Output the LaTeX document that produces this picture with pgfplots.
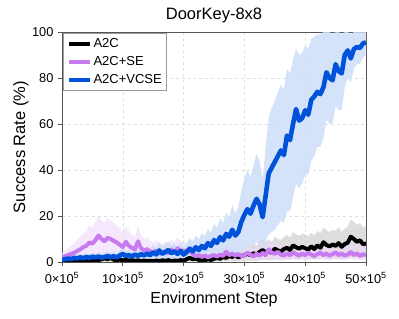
\documentclass[border=0pt]{standalone}
\usepackage{fontspec}
\setmainfont{Liberation Sans}
\usepackage{pgfplots}
\usepackage{pgfplotstable}
\pgfplotsset{compat=1.18}
\usepgfplotslibrary{fillbetween}
\definecolor{vcse}{RGB}{0,82,218}
\definecolor{vcseband}{RGB}{205,222,248}
\definecolor{se}{RGB}{200,122,240}
\definecolor{seband}{RGB}{238,215,250}
\definecolor{axgray}{RGB}{85,85,85}

\pgfplotstableread{
x m lo hi
0 1.0 0.3 2.0
0.5 1.2 0.4 2.4
1 1.5 0.5 2.8
1.5 1.3 0.4 2.6
2 1.8 0.6 3.2
2.5 1.6 0.5 3.0
3 2.0 0.7 3.5
3.5 1.7 0.5 3.2
4 2.2 0.8 3.8
4.5 1.8 0.6 3.4
5 2.3 0.8 4.0
5.5 2.0 0.6 3.6
6 2.4 0.9 4.2
6.5 1.9 0.6 3.6
7 2.2 0.7 4.0
7.5 2.6 0.9 4.6
8 2.1 0.7 3.9
8.5 2.5 0.8 4.5
9 2.0 0.6 3.8
9.5 2.8 1.0 5.0
10 3.5 1.2 6.0
10.5 2.6 0.8 4.8
11 3.0 1.0 5.4
11.5 2.4 0.8 4.6
12 3.2 1.0 5.8
12.5 2.7 0.9 5.0
13 3.4 1.1 6.2
13.5 2.9 0.9 5.4
14 3.6 1.2 6.5
14.5 3.0 1.0 5.6
15 4.2 1.4 7.4
15.5 3.3 1.0 6.0
16 5.0 1.6 8.6
16.5 3.6 1.1 6.6
17 4.4 1.4 7.8
17.5 5.2 1.6 9.0
18 3.8 1.2 7.0
18.5 4.6 1.4 8.2
19 3.5 1.0 6.6
19.5 4.8 1.5 8.6
20 3.2 1.0 6.2
20.5 4.5 1.4 8.4
21 5.8 1.8 10.4
21.5 4.6 1.4 8.8
22 6.4 2.0 11.5
22.5 5.2 1.6 9.8
23 7.0 2.2 12.6
23.5 6.0 1.8 11.2
24 8.2 2.6 14.5
24.5 7.0 2.2 12.8
25 9.5 3.0 16.5
25.5 8.3 2.6 15.0
26 10.8 3.4 19.0
26.5 9.4 3.0 17.0
27 12.2 3.8 21.5
27.5 11.0 3.4 19.5
28 14.0 4.2 25.0
28.5 11.5 3.6 21.0
29 13.0 4.0 24.0
29.5 17.5 5.0 31.0
30 20.5 6.0 36.0
30.5 23.0 7.0 40.0
31 21.0 6.5 37.0
31.5 24.5 7.5 42.0
32 27.5 8.5 47.0
32.5 25.0 8.0 44.0
33 19.5 6.0 36.0
33.5 29.0 9.0 50.0
34 38.5 12.0 63.0
34.5 41.0 13.0 67.0
35 43.5 14.0 70.0
35.5 46.0 16.0 74.0
36 48.5 18.0 77.0
36.5 46.5 17.0 75.0
37 55.0 22.0 84.0
37.5 53.0 22.0 82.0
38 60.0 28.0 88.0
38.5 66.5 34.0 93.0
39 61.5 32.0 90.0
39.5 62.5 34.0 91.0
40 66.0 38.0 94.0
40.5 64.0 38.0 93.0
41 70.5 44.0 97.0
41.5 72.0 46.0 98.0
42 74.0 50.0 99.0
42.5 73.0 50.0 99.0
43 76.0 54.0 100
43.5 82.5 62.0 100
44 80.0 60.0 100
44.5 79.0 60.0 99.0
45 86.0 68.0 100
45.5 83.0 66.0 100
46 82.0 66.0 99.0
46.5 90.0 76.0 100
47 92.0 80.0 100
47.5 88.5 78.0 99.0
48 92.5 84.0 100
48.5 93.5 86.0 100
49 93.0 86.0 100
49.5 95.0 89.0 100
50 95.5 90.0 100
}\vcsetab

\pgfplotstableread{
x m lo hi
0 2.0 0.5 4.0
0.5 2.5 0.8 5.0
1 3.0 1.0 6.0
1.5 3.5 1.0 7.0
2 4.0 1.2 8.0
2.5 4.8 1.4 9.5
3 5.5 1.6 11.0
3.5 6.5 2.0 12.5
4 7.0 2.2 13.5
4.5 8.5 2.6 16.0
5 8.0 2.4 15.0
5.5 9.5 3.0 17.5
6 11.5 3.5 20.0
6.5 10.0 3.0 18.0
7 9.0 2.8 17.0
7.5 10.5 3.2 19.0
8 10.0 3.0 18.0
8.5 9.2 2.8 17.0
9 8.5 2.6 16.0
9.5 7.5 2.3 14.5
10 6.5 2.0 13.0
10.5 8.8 2.6 15.5
11 7.0 2.2 13.5
11.5 6.2 2.0 12.0
12 5.5 1.8 11.0
12.5 9.0 2.6 15.5
13 6.0 1.9 11.5
13.5 5.0 1.6 10.0
14 5.6 1.8 10.8
14.5 4.6 1.5 9.2
15 4.2 1.3 8.5
15.5 5.0 1.5 9.5
16 4.0 1.2 8.2
16.5 3.6 1.1 7.6
17 4.5 1.4 8.8
17.5 3.8 1.2 7.8
18 5.5 1.7 10.0
18.5 4.2 1.3 8.4
19 6.0 1.8 10.8
19.5 4.8 1.5 9.0
20 5.0 1.5 9.4
20.5 3.8 1.2 7.6
21 5.2 1.6 9.6
21.5 3.5 1.0 7.2
22 2.5 0.8 5.6
22.5 3.0 0.9 6.4
23 2.2 0.6 5.2
23.5 2.8 0.8 6.0
24 2.0 0.6 5.0
24.5 2.6 0.8 5.8
25 3.0 0.9 6.4
25.5 2.4 0.7 5.6
26 3.2 1.0 6.8
26.5 2.6 0.8 5.8
27 4.5 1.4 8.6
27.5 3.0 0.9 6.4
28 3.6 1.1 7.2
28.5 2.8 0.8 6.0
29 3.4 1.0 7.0
29.5 2.6 0.8 5.8
30 3.0 0.9 6.4
30.5 4.0 1.2 7.8
31 3.2 1.0 6.8
31.5 2.4 0.7 5.6
32 3.6 1.1 7.2
32.5 2.8 0.8 6.2
33 4.0 1.2 7.8
33.5 3.0 0.9 6.6
34 5.5 1.6 9.6
34.5 4.0 1.2 8.0
35 3.6 1.1 7.4
35.5 4.4 1.3 8.4
36 3.2 1.0 7.0
36.5 2.8 0.8 6.4
37 3.6 1.1 7.4
37.5 3.0 0.9 6.6
38 4.2 1.2 8.2
38.5 3.4 1.0 7.2
39 2.8 0.8 6.4
39.5 3.6 1.1 7.4
40 3.0 0.9 6.6
40.5 4.0 1.2 8.0
41 3.2 1.0 7.0
41.5 2.6 0.8 6.0
42 3.4 1.0 7.2
42.5 4.0 1.2 8.0
43 3.0 0.9 6.6
43.5 3.6 1.1 7.4
44 2.8 0.8 6.2
44.5 3.4 1.0 7.2
45 4.2 1.2 8.4
45.5 3.0 0.9 6.6
46 3.6 1.1 7.4
46.5 2.8 0.8 6.2
47 3.2 1.0 7.0
47.5 4.4 1.3 8.6
48 3.0 0.9 6.6
48.5 3.8 1.1 7.8
49 2.6 0.8 6.0
49.5 3.4 1.0 7.2
50 3.0 0.9 6.6
}\setab

\pgfplotstableread{
x m lo hi
0 0.2 0.0 0.8
0.5 0.4 0.0 1.2
1 0.3 0.0 1.0
1.5 0.6 0.0 1.6
2 0.4 0.0 1.2
2.5 0.7 0.0 1.8
3 0.5 0.0 1.4
3.5 0.8 0.0 2.0
4 0.6 0.0 1.6
4.5 0.9 0.0 2.2
5 0.7 0.0 1.8
5.5 1.0 0.0 2.4
6 0.8 0.0 2.0
6.5 1.2 0.1 2.8
7 1.6 0.2 3.4
7.5 1.2 0.1 2.8
8 1.8 0.2 3.6
8.5 1.0 0.1 2.4
9 0.8 0.0 2.0
9.5 1.1 0.1 2.6
10 0.7 0.0 1.8
10.5 0.9 0.0 2.2
11 0.6 0.0 1.6
11.5 0.8 0.0 2.0
12 0.5 0.0 1.4
12.5 0.7 0.0 1.8
13 0.4 0.0 1.2
13.5 0.6 0.0 1.6
14 0.4 0.0 1.2
14.5 0.5 0.0 1.4
15 0.3 0.0 1.0
15.5 0.6 0.0 1.6
16 0.4 0.0 1.2
16.5 0.7 0.0 1.8
17 0.5 0.0 1.4
17.5 0.8 0.0 2.0
18 0.4 0.0 1.2
18.5 0.6 0.0 1.6
19 0.5 0.0 1.4
19.5 0.8 0.0 2.0
20 0.6 0.0 1.6
20.5 1.2 0.1 2.8
21 1.8 0.2 3.8
21.5 1.2 0.1 2.8
22 1.5 0.2 3.4
22.5 0.9 0.0 2.4
23 1.0 0.0 2.6
23.5 0.8 0.0 2.2
24 1.2 0.1 3.0
24.5 0.9 0.0 2.4
25 1.4 0.1 3.4
25.5 1.8 0.2 4.0
26 1.4 0.1 3.4
26.5 2.2 0.3 4.8
27 1.8 0.2 4.2
27.5 2.6 0.4 5.4
28 2.2 0.3 5.0
28.5 2.8 0.4 6.0
29 2.0 0.3 4.8
29.5 2.6 0.4 5.8
30 3.0 0.5 6.6
30.5 3.6 0.6 7.6
31 3.0 0.5 6.8
31.5 3.8 0.6 8.0
32 3.2 0.5 7.2
32.5 4.4 0.8 9.0
33 5.2 1.0 10.2
33.5 4.2 0.8 8.8
34 4.8 0.9 9.8
34.5 4.0 0.7 8.6
35 5.8 1.1 11.2
35.5 5.0 1.0 10.0
36 4.6 0.9 9.6
36.5 5.6 1.1 11.0
37 6.2 1.2 11.8
37.5 5.2 1.0 10.6
38 7.2 1.4 13.0
38.5 6.4 1.2 12.0
39 5.8 1.1 11.4
39.5 6.6 1.3 12.4
40 6.0 1.2 12.0
40.5 5.4 1.0 11.0
41 6.8 1.3 12.8
41.5 5.6 1.1 11.4
42 7.2 1.4 13.6
42.5 6.2 1.2 12.4
43 8.6 1.7 15.0
43.5 7.4 1.4 13.8
44 6.8 1.3 13.0
44.5 7.6 1.5 14.0
45 7.0 1.4 13.6
45.5 8.2 1.6 15.0
46 6.6 1.3 13.0
46.5 7.8 1.5 14.4
47 8.4 1.6 15.4
47.5 11.0 2.2 18.5
48 10.0 2.0 17.5
48.5 8.8 1.8 16.0
49 9.4 1.9 17.0
49.5 7.8 1.5 15.0
50 8.0 1.6 15.6
}\atab

\begin{document}
\begin{tikzpicture}
\begin{axis}[
  scale only axis,
  width=304bp, height=230bp,
  xmin=0, xmax=50, ymin=0, ymax=100,
  xtick={0,10,20,30,40,50},
  xticklabels={0{\texttimes}10\textsuperscript{5},10{\texttimes}10\textsuperscript{5},20{\texttimes}10\textsuperscript{5},30{\texttimes}10\textsuperscript{5},40{\texttimes}10\textsuperscript{5},50{\texttimes}10\textsuperscript{5}},
  ytick={0,20,40,60,80,100},
  /pgf/number format/assume math mode=true,
  tick label style={font=\fontsize{12.8bp}{14bp}\selectfont, text=black},
  xticklabel style={yshift=-3bp},
  yticklabel style={xshift=-1bp},
  tick align=outside, tick pos=left,
  major tick length=4bp,
  every tick/.style={axgray, line width=0.8bp},
  axis line style={axgray, line width=0.9bp},
  grid=major,
  grid style={dashed, gray!25, line width=0.5bp},
  title={DoorKey-8x8},
  title style={font=\fontsize{16.5bp}{18bp}\selectfont, at={(axis description cs:0.5,1)}, anchor=base, yshift=7bp},
  xlabel={Environment Step},
  xlabel style={font=\fontsize{16bp}{18bp}\selectfont, at={(axis description cs:0.5,0)}, anchor=base, yshift=-41bp},
  ylabel={Success Rate (\%)},
  ylabel style={font=\fontsize{16.5bp}{18bp}\selectfont, at={(axis description cs:-0.1217,0.5)}, anchor=base},
  legend style={at={(axis description cs:0.004,0.996)}, anchor=north west, draw=gray!80, line width=1bp,
    font=\fontsize{13bp}{15bp}\selectfont, inner xsep=3bp, inner ysep=3bp, row sep=3.5bp, cells={anchor=west}},
  legend image code/.code={\draw[#1, line width=3.8bp] (0bp,0bp) -- (21bp,0bp);},
]
% bands
\addplot[name path=alo, draw=none, forget plot] table[x=x,y=lo]{\atab};
\addplot[name path=ahi, draw=none, forget plot] table[x=x,y=hi]{\atab};
\addplot[gray!45, fill opacity=0.6, forget plot] fill between[of=alo and ahi];
\addplot[name path=slo, draw=none, forget plot] table[x=x,y=lo]{\setab};
\addplot[name path=shi, draw=none, forget plot] table[x=x,y=hi]{\setab};
\addplot[seband, fill opacity=0.6, forget plot] fill between[of=slo and shi];
\addplot[name path=vlo, draw=none, forget plot] table[x=x,y=lo]{\vcsetab};
\addplot[name path=vhi, draw=none, forget plot] table[x=x,y=hi]{\vcsetab};
\addplot[vcseband, fill opacity=0.85, forget plot] fill between[of=vlo and vhi];
% means
\addplot[black, line width=4bp, line join=round] table[x=x,y=m]{\atab};
\addlegendentry{A2C}
\addplot[se, line width=4bp, line join=round] table[x=x,y=m]{\setab};
\addlegendentry{A2C+SE}
\addplot[vcse, line width=4.6bp, line join=round] table[x=x,y=m]{\vcsetab};
\addlegendentry{A2C+VCSE}
\end{axis}
\pgfresetboundingbox
\path[use as bounding box] (-62bp,-57bp) rectangle (337bp,262bp);
\end{tikzpicture}
\end{document}
